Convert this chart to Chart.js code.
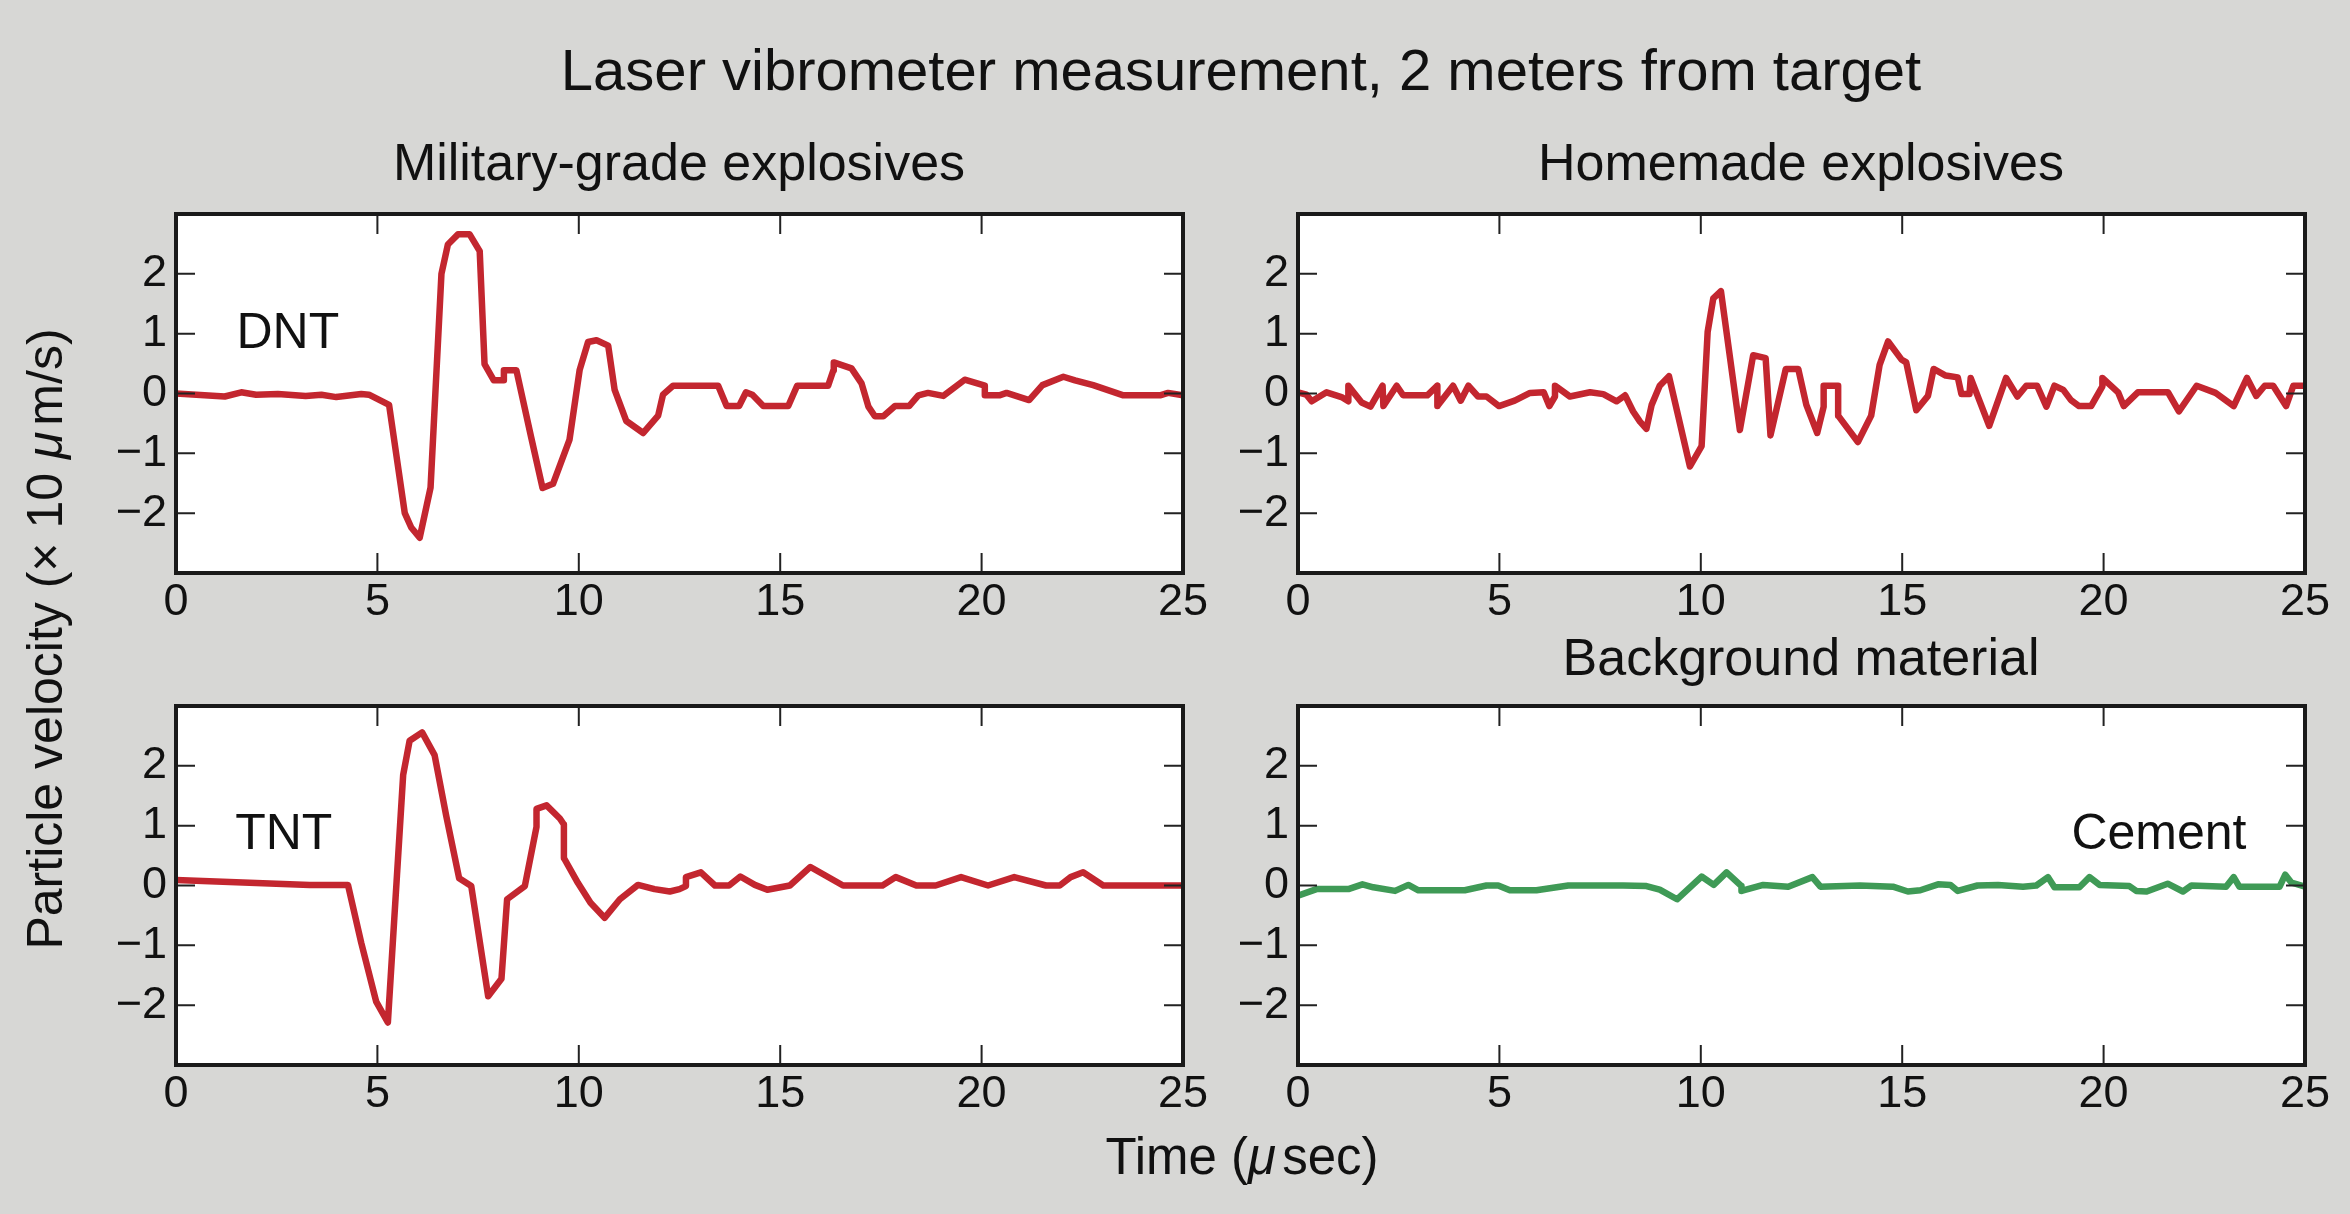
<!DOCTYPE html>
<html lang="en">
<head>
<meta charset="UTF-8">
<title>Laser vibrometer measurement</title>
<script src="https://cdn.jsdelivr.net/npm/chart.js"></script>
<style>
    html, body { margin: 0; padding: 0; }
    body { width: 2350px; height: 1214px; background: #d7d7d5; position: relative; overflow: hidden; }
    canvas { position: absolute; }
    .lbl { position: absolute; text-align: center; line-height: 1; white-space: nowrap;
           font-family: 'Liberation Sans', Arial, Helvetica, sans-serif; color: #111; }
    .lbl i { margin-right: 0.12em; }
</style>
</head>
<body>
<canvas id="tl" width="1180" height="470" style="left:40px; top:170px;"></canvas>
<canvas id="tr" width="1130" height="470" style="left:1220px; top:170px;"></canvas>
<canvas id="bl" width="1180" height="470" style="left:40px; top:662px;"></canvas>
<canvas id="br" width="1130" height="470" style="left:1220px; top:662px;"></canvas>

<div class="lbl" style="left:241px; width:2000px; top:41px; font-size:58px;">Laser vibrometer measurement, 2 meters from target</div>
<div class="lbl" style="left:179px; width:1000px; top:136px; font-size:52px;">Military-grade explosives</div>
<div class="lbl" style="left:1301px; width:1000px; top:136px; font-size:52px;">Homemade explosives</div>
<div class="lbl" style="left:1301px; width:1000px; top:631px; font-size:52px;">Background material</div>
<div class="lbl" style="left:742px; width:1000px; top:1131px; font-size:51px;">Time (<i>μ</i>sec)</div>
<div class="lbl" style="left:-355px; width:800px; top:614px; font-size:50px; transform:rotate(-90deg);">Particle velocity (× 10 <i>μ</i>m/s)</div>

<script>
// time axis in microseconds, velocity in units of 10 um/s
const xTickValues = [0, 5, 10, 15, 20, 25];
const yTickValues = [-2, -1, 0, 1, 2];

const dntTime = [0, 1.21, 1.62, 1.99, 2.53, 3.22, 3.61, 3.98, 4.6, 4.79,
    5.29, 5.68, 5.84, 6.05, 6.32, 6.59, 6.75, 7.0, 7.29, 7.54,
    7.66, 7.89, 8.14, 8.14, 8.45, 8.82, 9.1, 9.36, 9.77, 10.02,
    10.23, 10.44, 10.73, 10.89, 11.18, 11.6, 11.97, 12.09, 12.34, 13.46,
    13.67, 13.98, 14.15, 14.31, 14.58, 15.2, 15.42, 16.19, 16.32, 16.33,
    16.77, 17.02, 17.19, 17.35, 17.56, 17.85, 18.2, 18.43, 18.67, 19.05,
    19.58, 20.08, 20.08, 20.44, 20.62, 21.18, 21.51, 22.03, 22.32, 22.77,
    23.52, 24.43, 24.63, 25.0];
const dntVel = [0, -0.05, 0.02, -0.02, -0.01, -0.04, -0.02, -0.06, -0.01, -0.02,
    -0.19, -2.0, -2.24, -2.41, -1.57, 2.0, 2.49, 2.66, 2.66, 2.38,
    0.49, 0.22, 0.22, 0.39, 0.39, -0.74, -1.58, -1.51, -0.77, 0.39,
    0.86, 0.89, 0.8, 0.06, -0.46, -0.66, -0.37, -0.02, 0.13, 0.13,
    -0.21, -0.21, 0.02, -0.02, -0.21, -0.21, 0.13, 0.13, 0.39, 0.52,
    0.42, 0.17, -0.22, -0.38, -0.38, -0.21, -0.21, -0.03, 0.01, -0.04,
    0.23, 0.13, -0.03, -0.03, 0.01, -0.11, 0.14, 0.28, 0.22, 0.14,
    -0.03, -0.03, 0.01, -0.03];

const hmeTime = [0, 0.21, 0.34, 0.71, 1.08, 1.25, 1.25, 1.58, 1.8, 2.1,
    2.12, 2.45, 2.61, 3.21, 3.46, 3.46, 3.85, 4.04, 4.23, 4.47,
    4.68, 4.99, 5.38, 5.76, 6.1, 6.24, 6.38, 6.38, 6.75, 7.25,
    7.58, 7.91, 8.12, 8.32, 8.49, 8.65, 8.78, 8.98, 9.21, 9.73,
    10.02, 10.17, 10.31, 10.5, 10.97, 11.3, 11.61, 11.73, 12.11, 12.42,
    12.62, 12.89, 13.05, 13.05, 13.41, 13.41, 13.9, 14.23, 14.44, 14.65,
    14.98, 15.1, 15.35, 15.64, 15.78, 16.08, 16.38, 16.47, 16.67, 16.7,
    17.16, 17.58, 17.86, 18.08, 18.35, 18.58, 18.78, 19.0, 19.19, 19.39,
    19.69, 19.97, 19.97, 20.36, 20.5, 20.85, 21.6, 21.87, 22.31, 22.78,
    23.23, 23.56, 23.79, 24.0, 24.21, 24.53, 24.71, 25.0];
const hmeVel = [0.02, -0.02, -0.13, 0.02, -0.06, -0.13, 0.13, -0.15, -0.22, 0.13,
    -0.21, 0.13, -0.03, -0.03, 0.13, -0.21, 0.13, -0.12, 0.13, -0.05,
    -0.05, -0.21, -0.12, 0.01, 0.02, -0.21, -0.05, 0.13, -0.05, 0.02,
    -0.01, -0.13, -0.03, -0.3, -0.47, -0.59, -0.19, 0.13, 0.29, -1.22,
    -0.88, 1.03, 1.59, 1.71, -0.61, 0.64, 0.59, -0.7, 0.41, 0.41,
    -0.19, -0.66, -0.22, 0.13, 0.13, -0.37, -0.81, -0.37, 0.48, 0.87,
    0.57, 0.52, -0.28, -0.04, 0.41, 0.3, 0.27, -0.01, -0.01, 0.26,
    -0.54, 0.26, -0.05, 0.13, 0.13, -0.22, 0.13, 0.06, -0.11, -0.21,
    -0.21, 0.12, 0.26, 0.02, -0.21, 0.02, 0.02, -0.3, 0.13, 0.01,
    -0.21, 0.26, -0.04, 0.13, 0.13, -0.21, 0.13, 0.13];

const tntTime = [0, 3.32, 4.27, 4.6, 4.97, 5.26, 5.64, 5.8, 6.11, 6.42,
    6.71, 7.03, 7.33, 7.75, 8.08, 8.22, 8.66, 8.95, 8.95, 9.2,
    9.53, 9.63, 9.63, 9.98, 10.29, 10.64, 11.02, 11.47, 11.88, 12.26,
    12.5, 12.66, 12.66, 13.03, 13.38, 13.73, 14.01, 14.37, 14.68, 15.24,
    15.75, 16.56, 17.54, 17.87, 18.38, 18.86, 19.49, 20.16, 20.81, 21.6,
    21.94, 22.21, 22.52, 23.02, 25.0];
const tntVel = [0.09, 0.01, 0.01, -0.96, -1.94, -2.29, 1.85, 2.42, 2.56, 2.18,
    1.16, 0.12, -0.01, -1.85, -1.56, -0.23, -0.01, 0.98, 1.28, 1.34,
    1.12, 1.02, 0.46, 0.04, -0.29, -0.54, -0.23, 0.01, -0.06, -0.1,
    -0.06, -0.01, 0.14, 0.22, 0, 0, 0.15, 0.01, -0.07, 0,
    0.31, 0, 0, 0.14, 0, 0, 0.14, 0, 0.14, 0,
    0, 0.14, 0.22, 0, 0];

const cementTime = [0, 0.46, 1.25, 1.6, 1.87, 2.41, 2.74, 2.99, 4.14, 4.68,
    4.97, 5.26, 5.92, 6.71, 8.07, 8.65, 8.98, 9.41, 10.02, 10.32,
    10.64, 11.01, 11.01, 11.55, 12.17, 12.77, 12.97, 13.95, 14.77, 15.14,
    15.45, 15.89, 16.2, 16.38, 16.87, 17.38, 18.0, 18.33, 18.62, 18.78,
    19.4, 19.65, 19.9, 20.64, 20.81, 21.07, 21.59, 21.97, 22.18, 23.04,
    23.23, 23.37, 24.37, 24.51, 24.66, 25.0];
const cementVel = [-0.17, -0.06, -0.06, 0.02, -0.03, -0.09, 0.01, -0.08, -0.08, 0,
    0, -0.08, -0.08, 0, 0, -0.01, -0.07, -0.23, 0.15, 0.01,
    0.22, -0.01, -0.09, 0.01, -0.02, 0.14, -0.02, 0, -0.02, -0.1,
    -0.08, 0.02, 0.01, -0.09, 0, 0.01, -0.02, 0, 0.14, -0.03,
    -0.03, 0.14, 0.01, -0.01, -0.09, -0.1, 0.03, -0.1, 0, -0.02,
    0.14, -0.02, -0.02, 0.18, 0.05, -0.02];

const RED = '#c3262f';
const GREEN = '#3f9a56';
const FONT = "'Liberation Sans', Arial, Helvetica, sans-serif";

// white plot area, black frame and inward ticks on all four sides
const framePlugin = {
    id: 'frame',
    beforeDraw(chart) {
        const { ctx, chartArea: a } = chart;
        ctx.save();
        ctx.fillStyle = '#ffffff';
        ctx.fillRect(a.left, a.top, a.width, a.height);
        ctx.restore();
    },
    afterDatasetsDraw(chart) {
        const { ctx, chartArea: a, scales } = chart;
        ctx.save();
        ctx.strokeStyle = '#222';
        ctx.lineWidth = 2;
        ctx.beginPath();
        xTickValues.slice(1, -1).forEach(v => {
            const px = scales.x.getPixelForValue(v);
            ctx.moveTo(px, a.bottom); ctx.lineTo(px, a.bottom - 20);
            ctx.moveTo(px, a.top); ctx.lineTo(px, a.top + 20);
        });
        yTickValues.forEach(v => {
            const py = scales.y.getPixelForValue(v);
            ctx.moveTo(a.left, py); ctx.lineTo(a.left + 19, py);
            ctx.moveTo(a.right, py); ctx.lineTo(a.right - 19, py);
        });
        ctx.stroke();
        ctx.lineWidth = 4;
        ctx.strokeStyle = '#1a1a1a';
        ctx.strokeRect(a.left, a.top, a.width, a.height);
        ctx.restore();
    }
};

// sample name written inside the plot, placed in data units
const panelLabelPlugin = {
    id: 'panelLabel',
    afterDraw(chart, args, opts) {
        if (!opts || !opts.text) return;
        const { ctx, scales } = chart;
        ctx.save();
        ctx.font = '50px ' + FONT;
        ctx.fillStyle = '#111';
        ctx.textAlign = 'left';
        ctx.textBaseline = 'alphabetic';
        ctx.fillText(opts.text, scales.x.getPixelForValue(opts.x), scales.y.getPixelForValue(opts.y));
        ctx.restore();
    }
};

function makePanel(id, times, values, color, yAxisWidth, padRight, label) {
    const points = times.map((t, i) => ({ x: t, y: values[i] }));
    return new Chart(document.getElementById(id), {
        type: 'line',
        data: {
            datasets: [{
                data: points,
                borderColor: color,
                borderWidth: 6.5,
                borderJoinStyle: 'round',
                borderCapStyle: 'round',
                pointRadius: 0,
                tension: 0,
                fill: false
            }]
        },
        options: {
            responsive: false,
            animation: false,
            events: [],
            layout: { padding: { top: 44, right: padRight, left: 0, bottom: 0 } },
            scales: {
                x: {
                    type: 'linear',
                    min: 0,
                    max: 25,
                    afterBuildTicks: s => { s.ticks = xTickValues.map(v => ({ value: v })); },
                    afterFit: s => { s.height = 67; },
                    grid: { display: false, drawTicks: false },
                    border: { display: false },
                    ticks: { padding: 3, color: '#111', font: { family: FONT, size: 45 } }
                },
                y: {
                    type: 'linear',
                    min: -3,
                    max: 3,
                    afterBuildTicks: s => { s.ticks = yTickValues.map(v => ({ value: v })); },
                    afterFit: s => { s.width = yAxisWidth; },
                    grid: { display: false, drawTicks: false },
                    border: { display: false },
                    ticks: {
                        padding: 9,
                        color: '#111',
                        font: { family: FONT, size: 45 },
                        callback: v => (v < 0 ? '\u2212' + Math.abs(v) : String(v))
                    }
                }
            },
            plugins: {
                legend: { display: false },
                tooltip: { enabled: false },
                panelLabel: label || {}
            }
        },
        plugins: [framePlugin, panelLabelPlugin]
    });
}

makePanel('tl', dntTime, dntVel, RED, 136, 37, { text: 'DNT', x: 1.5, y: 0.76 });
makePanel('tr', hmeTime, hmeVel, RED, 78, 45, null);
makePanel('bl', tntTime, tntVel, RED, 136, 37, { text: 'TNT', x: 1.47, y: 0.61 });
makePanel('br', cementTime, cementVel, GREEN, 78, 45, { text: 'Cement', x: 19.2, y: 0.61 });
</script>
</body>
</html>
